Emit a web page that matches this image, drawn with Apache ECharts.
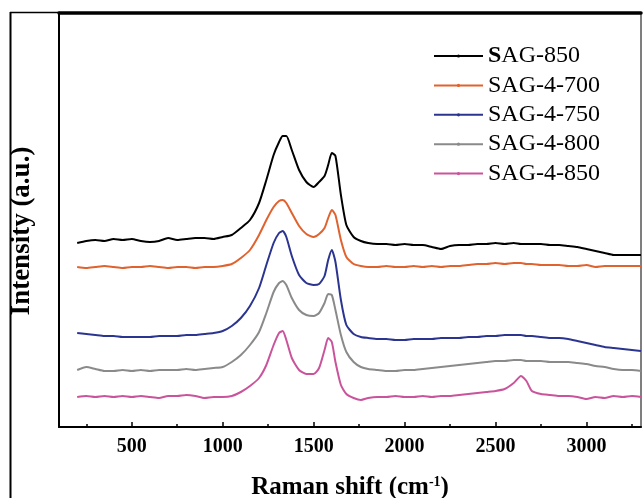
<!DOCTYPE html>
<html>
<head>
<meta charset="utf-8">
<script src="https://cdn.jsdelivr.net/npm/echarts@6/dist/echarts.min.js"></script>
<style>
  html, body { margin: 0; padding: 0; background: #fff; }
  #main { width: 643px; height: 498px; }
</style>
</head>
<body>
<div id="main"></div>
<script>
// Raman shift (cm-1), shared by all spectra
var ramanShift = [200, 250, 300, 350, 400, 450, 500, 550, 600, 650, 700, 750, 800, 850, 900, 950, 1000, 1050, 1100, 1150, 1200,
  1240, 1280, 1310, 1330, 1350, 1380, 1420, 1460, 1500, 1530, 1560, 1580, 1600, 1620, 1650, 1680, 1720, 1760, 1800,
  1850, 1900, 1950, 2000, 2050, 2100, 2150, 2200, 2250, 2300, 2350, 2400, 2450, 2500, 2550, 2600,
  2640, 2670, 2700, 2750, 2800, 2850, 2900, 2950, 3000, 3050, 3100, 3150, 3200, 3250, 3300];

// intensity (a.u.), already offset as in the figure
var sag850 = [184, 186, 187, 186, 188, 187, 188, 186, 185, 186, 189, 187, 188, 189, 189, 188, 190, 192, 199, 207, 224,
  247, 272, 285, 291, 291, 277, 257, 245, 240, 245, 251, 262, 274, 271, 232, 202, 190, 186, 184,
  183, 183, 182, 183, 182, 182, 180, 178, 181, 182, 182, 183, 183, 184, 183, 184,
  183, 183, 183, 183, 182, 182, 181, 180, 178, 176, 174, 172, 172, 172, 172];
var sag4_700 = [160, 159, 160, 161, 160, 159, 160, 160, 161, 160, 159, 160, 160, 159, 160, 160, 161, 163, 169, 177, 192,
  207, 220, 226, 227, 224, 214, 201, 193, 190, 193, 199, 209, 217, 212, 187, 170, 163, 161, 160,
  160, 161, 160, 160, 161, 160, 161, 160, 161, 161, 162, 163, 163, 164, 163, 164,
  164, 163, 163, 162, 162, 162, 161, 161, 162, 160, 161, 161, 161, 161, 161];
var sag4_750 = [94, 93, 92, 91, 91, 90, 90, 90, 90, 91, 91, 91, 92, 92, 93, 94, 96, 101, 109, 121, 139,
  162, 184, 194, 196, 190, 171, 152, 144, 142, 143, 151, 167, 177, 165, 127, 102, 93, 90, 89,
  88, 88, 87, 87, 88, 88, 88, 89, 89, 89, 90, 90, 91, 91, 92, 92,
  92, 91, 91, 90, 89, 89, 88, 86, 84, 82, 80, 79, 78, 77, 76];
var sag4_800 = [57, 60, 58, 56, 56, 57, 56, 57, 56, 57, 57, 57, 58, 57, 58, 59, 60, 65, 72, 82, 95,
  114, 135, 144, 146, 142, 129, 117, 112, 111, 114, 124, 133, 132, 117, 92, 75, 65, 60, 58,
  57, 56, 56, 57, 57, 58, 59, 60, 61, 62, 63, 64, 65, 66, 66, 67,
  67, 66, 66, 66, 65, 65, 65, 64, 63, 61, 60, 58, 57, 57, 56];
var sag4_850 = [30, 31, 30, 31, 30, 31, 30, 31, 30, 29, 31, 31, 32, 31, 29, 30, 30, 31, 35, 41, 49,
  62, 82, 94, 96, 87, 69, 57, 53, 53, 59, 77, 89, 85, 65, 42, 33, 29, 27, 29,
  30, 30, 31, 30, 30, 31, 30, 31, 31, 32, 33, 34, 35, 36, 38, 44,
  51, 46, 36, 33, 32, 31, 31, 30, 28, 30, 29, 31, 30, 31, 30];

var seriesNames = ['SAG-850', 'SAG-4-700', 'SAG-4-750', 'SAG-4-800', 'SAG-4-850'];
var seriesData = [sag850, sag4_700, sag4_750, sag4_800, sag4_850];
var colors = ['#000000', '#e0622f', '#2b3590', '#8a8a8a', '#c9549b'];

var xMajor = [500, 1000, 1500, 2000, 2500, 3000];
var xMinor = [250, 750, 1250, 1750, 2250, 2750, 3250];

var serif = 'Liberation Serif';

function pairs(ys) {
  var out = [];
  for (var i = 0; i < ramanShift.length; i++) {
    out.push([ramanShift[i], ys[i]]);
  }
  return out;
}

var series = [];
for (var i = 0; i < seriesNames.length; i++) {
  series.push({
    name: seriesNames[i],
    type: 'line',
    xAxisIndex: 0,
    data: pairs(seriesData[i]),
    symbol: 'circle',
    symbolSize: 2,
    showSymbol: false,
    smooth: 0.2,
    lineStyle: { width: 2, color: colors[i] },
    itemStyle: { color: colors[i] },
    animation: false
  });
}

var chart = echarts.init(document.getElementById('main'), null, { renderer: 'canvas' });
var option = {
  backgroundColor: '#fff',
  animation: false,
  color: colors,
  grid: { left: 59, right: 2, top: 13, bottom: 71, outerBoundsMode: 'none' },
  legend: {
    orient: 'vertical',
    left: 428,
    top: 39,
    itemWidth: 49,
    itemHeight: 4,
    itemGap: 5.4,
    data: seriesNames,
    formatter: function (name) {
      if (name == 'SAG-850') {
        return '{b|S}AG-850';//首字母加粗
      }
      return name;
    },
    textStyle: {
      fontFamily: serif,
      fontSize: 24,
      color: '#000',
      lineHeight: 24,
      rich: {
        b: { fontFamily: serif, fontSize: 24, fontWeight: 'bold', color: '#000' }
      }
    }
  },
  xAxis: [
    {
      type: 'value',
      min: 100,
      max: 3300,
      position: 'bottom',
      splitLine: { show: false },
      axisLine: { lineStyle: { color: '#000', width: 2 } },
      axisTick: { inside: true, length: 5, customValues: xMajor, lineStyle: { color: '#000', width: 1.5 } },
      axisLabel: {
        customValues: xMajor,
        formatter: function (v) { return String(v); },
        margin: 10,
        fontFamily: serif,
        fontWeight: 'bold',
        fontSize: 20,
        color: '#000'
      },
      name: '{t|Raman shift (cm}{s|-1}{t|)}',
      nameLocation: 'middle',
      nameGap: 48,
      nameTextStyle: {
        rich: {
          t: { fontFamily: serif, fontWeight: 'bold', fontSize: 25, color: '#000' },
          s: { fontFamily: serif, fontWeight: 'bold', fontSize: 14, color: '#000', verticalAlign: 'top', padding: [0, 0, 12, 0] }
        }
      }
    },
    {
      // minor ticks
      type: 'value',
      min: 100,
      max: 3300,
      position: 'bottom',
      splitLine: { show: false },
      axisLine: { show: false },
      axisTick: { inside: true, length: 3, customValues: xMinor, lineStyle: { color: '#000', width: 1.5 } },
      axisLabel: { show: false }
    },
    {
      // top frame
      type: 'value',
      min: 100,
      max: 3300,
      position: 'top',
      splitLine: { show: false },
      axisLine: { lineStyle: { color: '#000', width: 3.5 } },
      axisTick: { show: false },
      axisLabel: { show: false }
    }
  ],
  yAxis: [
    {
      type: 'value',
      min: 0,
      max: 414,
      position: 'left',
      splitLine: { show: false },
      axisLine: { show: true, lineStyle: { color: '#000', width: 2 } },
      axisTick: { show: false },
      axisLabel: { show: false },
      name: 'Intensity (a.u.)',
      nameLocation: 'middle',
      nameGap: 23,
      nameTextStyle: { fontFamily: serif, fontWeight: 'bold', fontSize: 27, color: '#000', padding: [0, 22, 0, 0] }
    },
    {
      // right frame
      type: 'value',
      min: 0,
      max: 414,
      position: 'right',
      splitLine: { show: false },
      axisLine: { show: true, lineStyle: { color: '#555', width: 1.5 } },
      axisTick: { show: false },
      axisLabel: { show: false }
    }
  ],
  graphic: [
    { type: 'line', shape: { x1: 10.5, y1: 12, x2: 10.5, y2: 498 }, style: { stroke: '#000', lineWidth: 2 } },
    { type: 'line', shape: { x1: 10, y1: 12.5, x2: 60, y2: 12.5 }, style: { stroke: '#000', lineWidth: 1.5 } }
  ],
  series: series
};
chart.setOption(option);
</script>
</body>
</html>
